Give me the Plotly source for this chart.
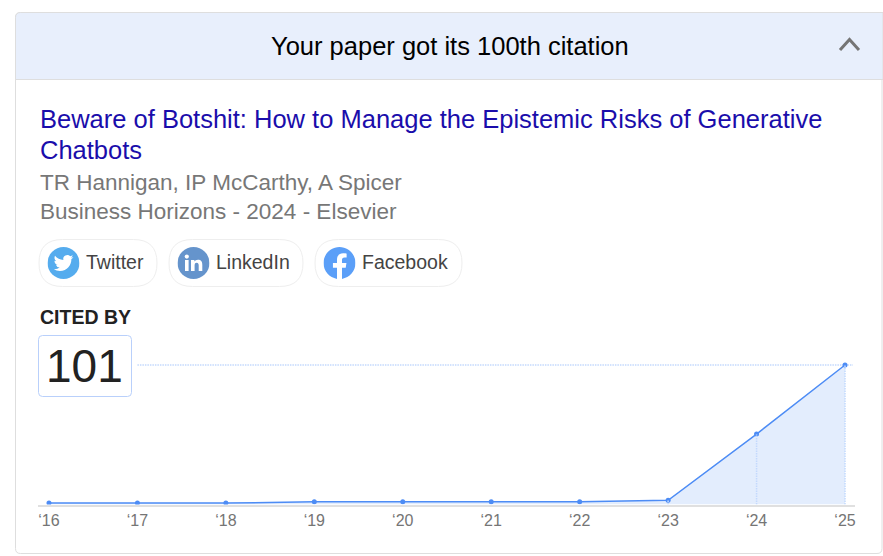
import base64
import plotly.graph_objects as go

W = 883
H = 556

years = [2016, 2017, 2018, 2019, 2020, 2021, 2022, 2023, 2024, 2025]
citations = [1, 1, 1, 2, 2, 2, 2, 3, 51, 101]
tick_labels = ["‘16", "‘17", "‘18", "‘19", "‘20", "‘21", "‘22", "‘23", "‘24", "‘25"]
dropline_years = [2023, 2024, 2025]

FONT = "Liberation Sans"
BLUE = "#4d8cf5"
DOTTED = "#c3d9fd"


def px(x):
    return x / W


def py(y):
    return 1 - y / H


def rounded(x0, y0, x1, y1, r):
    # rounded rectangle in paper coords, given in pixels
    pts = [
        f"M{px(x0 + r)},{py(y0)}", f"L{px(x1 - r)},{py(y0)}",
        f"Q{px(x1)},{py(y0)} {px(x1)},{py(y0 + r)}", f"L{px(x1)},{py(y1 - r)}",
        f"Q{px(x1)},{py(y1)} {px(x1 - r)},{py(y1)}", f"L{px(x0 + r)},{py(y1)}",
        f"Q{px(x0)},{py(y1)} {px(x0)},{py(y1 - r)}", f"L{px(x0)},{py(y0 + r)}",
        f"Q{px(x0)},{py(y0)} {px(x0 + r)},{py(y0)}", "Z",
    ]
    return " ".join(pts)


def box(x0, y0, x1, y1, r, fill="rgba(0,0,0,0)", line="#e3e3e3", width=1):
    return dict(type="path", xref="paper", yref="paper", path=rounded(x0, y0, x1, y1, r),
                fillcolor=fill, line=dict(color=line, width=width), layer="below")


def label(x, y, text, size, color="#000000", anchor="left", bold=False):
    if bold:
        text = "<b>" + text + "</b>"
    # annotations carry 2px of padding
    shift = -2 if anchor == "left" else 0
    return dict(x=px(x), y=py(y), xref="paper", yref="paper", text=text, showarrow=False,
                xanchor=anchor, yanchor="middle", align=anchor, xshift=shift,
                font=dict(family=FONT, size=size, color=color))


def icon(svg_body, cx, cy, size=32):
    svg = f'<svg xmlns="http://www.w3.org/2000/svg" viewBox="0 0 32 32" width="64" height="64">{svg_body}</svg>'
    uri = "data:image/svg+xml;base64," + base64.b64encode(svg.encode()).decode()
    return dict(source=uri, xref="paper", yref="paper", x=px(cx - size / 2), y=py(cy - size / 2),
                sizex=size / W, sizey=size / H, xanchor="left", yanchor="top", layer="above")


twitter_svg = ('<circle cx="16" cy="16" r="16" fill="#55acee"/>'
               '<g transform="translate(6.2,6.2) scale(0.82)"><path fill="#fff" d="M23.953 4.57a10 10 0 01-2.825.775 4.958 4.958 0 002.163-2.723c-.951.555-2.005.959-3.127 1.184a4.92 4.92 0 00-8.384 4.482C7.69 8.095 4.067 6.13 1.64 3.162a4.822 4.822 0 00-.666 2.475c0 1.71.87 3.213 2.188 4.096a4.904 4.904 0 01-2.228-.616v.06a4.923 4.923 0 003.946 4.827 4.996 4.996 0 01-2.212.085 4.936 4.936 0 004.604 3.417 9.867 9.867 0 01-6.102 2.105c-.39 0-.779-.023-1.17-.067a13.995 13.995 0 007.557 2.209c9.053 0 13.998-7.496 13.998-13.985 0-.21 0-.42-.015-.63A9.935 9.935 0 0024 4.59z"/></g>')
linkedin_svg = ('<circle cx="16" cy="16" r="16" fill="#6594cc"/>'
                '<rect x="7.5" y="13" width="3.6" height="11" fill="#fff"/><circle cx="9.3" cy="9.6" r="2.1" fill="#fff"/>'
                '<path fill="#fff" d="M13.5 13h3.4v1.6c.6-1 1.9-1.9 3.6-1.9 3.4 0 4.3 2.2 4.3 5.2V24h-3.6v-5.4c0-1.5-.3-2.9-2-2.9s-2.1 1.3-2.1 2.9V24h-3.6z"/>')
facebook_svg = ('<circle cx="16" cy="16" r="15" fill="#fff"/>'
                '<g transform="scale(1.3333)"><path fill="#5b9ff8" d="M24 12.073c0-6.627-5.373-12-12-12s-12 5.373-12 12c0 5.99 4.388 10.954 10.125 11.854v-8.385H7.078v-3.47h3.047V9.43c0-3.007 1.792-4.669 4.533-4.669 1.312 0 2.686.235 2.686.235v2.953H15.83c-1.491 0-1.956.925-1.956 1.874v2.25h3.328l-.532 3.47h-2.796v8.385C19.612 23.027 24 18.062 24 12.073z"/></g>')

fig = go.Figure()

fig.add_trace(go.Scatter(x=years, y=citations, mode="lines+markers", fill="tozeroy",
                         fillcolor="#e3edfd", line=dict(color=BLUE, width=1.5),
                         marker=dict(color=BLUE, size=5), hoverinfo="x+y", showlegend=False))

shapes = [
    box(15.5, 12.5, 882, 553.5, 5, fill="#ffffff", line="#dedede"),
    dict(type="path", xref="paper", yref="paper", layer="below", fillcolor="#e8effc",
         line=dict(color="#dedede", width=1),
         path=f"M{px(15.5)},{py(79.5)} L{px(15.5)},{py(17.5)} Q{px(15.5)},{py(12.5)} {px(20.5)},{py(12.5)} "
              f"L{px(883)},{py(12.5)} L{px(883)},{py(79.5)} Z"),
    dict(type="path", xref="paper", yref="paper",
         path=f"M{px(840)},{py(50)} L{px(849.5)},{py(39.5)} L{px(859)},{py(50)}",
         line=dict(color="#757575", width=3)),
    box(39, 239.5, 157, 286.5, 23.5, line="#eeeeee"),
    box(169, 239.5, 303, 286.5, 23.5, line="#eeeeee"),
    box(315, 239.5, 462, 286.5, 23.5, line="#eeeeee"),
    box(38.5, 335.5, 131.5, 396.5, 4, line="#b9d0fb"),
    # dotted guide from the count box to the last point
    dict(type="line", xref="x", yref="y", x0=2017.0, x1=2025.09, y0=max(citations), y1=max(citations),
         line=dict(color=DOTTED, width=1.5, dash="1.5px,1px"), layer="below"),
]
for yr, val in zip(years, citations):
    if yr in dropline_years:
        shapes.append(dict(type="line", xref="x", yref="y", x0=yr, x1=yr, y0=0, y1=val,
                           line=dict(color=DOTTED, width=1.5, dash="1.5px,1px"), layer="above"))

annotations = [
    label(449.5, 46, "Your paper got its 100th citation", 25.5, anchor="center"),
    label(40, 119, "Beware of Botshit: How to Manage the Epistemic Risks of Generative", 25.5, color="#1a0dab"),
    label(40, 150, "Chatbots", 25.5, color="#1a0dab"),
    label(40, 183, "TR Hannigan, IP McCarthy, A Spicer", 22.5, color="#777777"),
    label(40, 211, "Business Horizons - 2024 - Elsevier", 22.5, color="#777777"),
    label(86, 262, "Twitter", 19.5, color="#444444"),
    label(216, 262, "LinkedIn", 19.5, color="#444444"),
    label(362, 262, "Facebook", 19.5, color="#444444"),
    label(40, 317, "CITED BY", 19.5, color="#222222", bold=True),
    label(84.5, 366, str(max(citations)), 46, color="#222222", anchor="center"),
]

fig.update_layout(
    width=W, height=H, margin=dict(l=0, r=0, t=0, b=0), autosize=False,
    paper_bgcolor="#ffffff", plot_bgcolor="rgba(0,0,0,0)", showlegend=False,
    shapes=shapes, annotations=annotations,
    images=[icon(twitter_svg, 63.5, 263), icon(linkedin_svg, 193.5, 263), icon(facebook_svg, 339.5, 263)],
)
fig.update_xaxes(domain=[38 / W, 855 / W], range=[2015.876, 2025.113], tickmode="array", tickvals=years,
                 ticktext=tick_labels, showgrid=False, zeroline=False, showline=True, linecolor="#e0e0e0",
                 linewidth=2, ticks="", tickfont=dict(family=FONT, size=16, color="#757575"))
fig.update_yaxes(domain=[1 - 504.5 / H, 1 - 355 / H], range=[0, 108.25], showgrid=False, zeroline=False,
                 showticklabels=False, ticks="")

# the page has a default 8px body margin, drop it so the figure sits at 0,0
fig.write_html("out.html", config=dict(displayModeBar=False),
               post_script="document.body.style.margin='0';document.documentElement.style.overflow='hidden';")
